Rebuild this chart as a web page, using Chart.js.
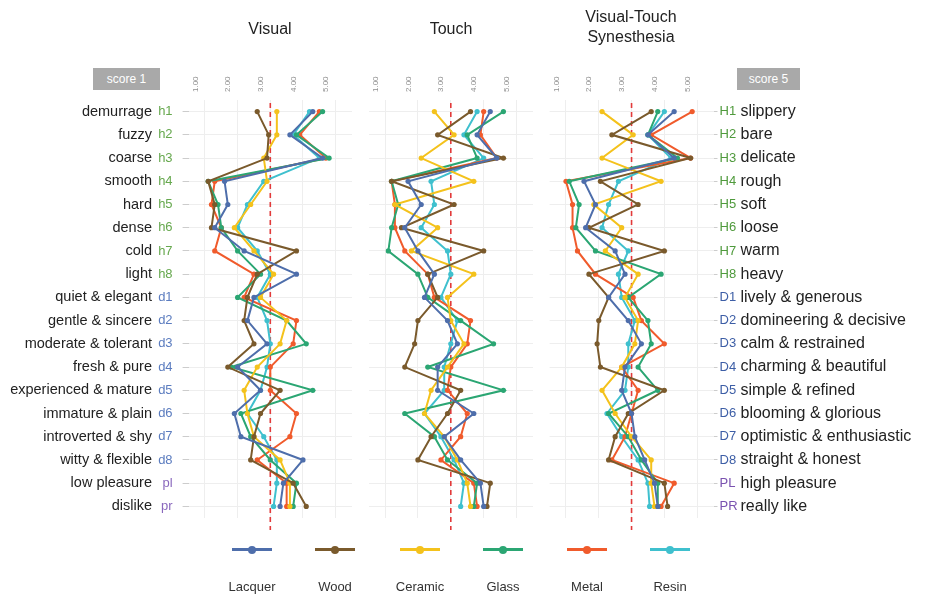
<!DOCTYPE html>
<html>
<head>
<meta charset="utf-8">
<script src="https://cdn.jsdelivr.net/npm/chart.js@4.4.1/dist/chart.umd.min.js"></script>
<style>
  html, body { margin: 0; padding: 0; background: #fff; width: 925px; height: 597px; overflow: hidden;
    font-family: "Liberation Sans", Arial, sans-serif; }
  canvas { position: absolute; top: 0; }
  .title { position: absolute; width: 180px; text-align: center; font-size: 16px; line-height: 20px; color: #222; }
  .score { position: absolute; top: 68px; height: 22px; line-height: 22px; background: #a9a9a9; color: #fff;
    font-size: 12px; text-align: center; }
  .lg { position: absolute; width: 80px; height: 50px; }
  .lg .bar { position: absolute; left: 20px; top: 0; width: 40px; height: 3px; }
  .lg .dot { position: absolute; left: 36px; top: -2.5px; width: 8px; height: 8px; border-radius: 50%; }
  .lg .txt { position: absolute; left: 0; width: 80px; top: 31px; text-align: center; font-size: 13px; color: #333; }
</style>
</head>
<body>
<canvas id="visual" width="360" height="597" style="left:0px"></canvas>
<canvas id="touch" width="180" height="597" style="left:360px"></canvas>
<canvas id="syn" width="385" height="597" style="left:540px"></canvas>

<div class="title" style="left:180px; top:19px;">Visual</div>
<div class="title" style="left:361px; top:19px;">Touch</div>
<div class="title" style="left:541px; top:7px;">Visual-Touch<br>Synesthesia</div>
<div class="score" style="left:93px; width:67px;">score 1</div>
<div class="score" style="left:737px; width:63px;">score 5</div>
<div id="legend"></div>

<script>
// Row codes and the adjective pairs they stand for
const leftCodes = ['h1','h2','h3','h4','h5','h6','h7','h8','d1','d2','d3','d4','d5','d6','d7','d8','pl','pr'];
const leftTerms = ['demurrage','fuzzy','coarse','smooth','hard','dense','cold','light',
  'quiet & elegant','gentle & sincere','moderate & tolerant','fresh & pure','experienced & mature',
  'immature & plain','introverted & shy','witty & flexible','low pleasure','dislike'];
const rightCodes = ['H1','H2','H3','H4','H5','H6','H7','H8','D1','D2','D3','D4','D5','D6','D7','D8','PL','PR'];
const rightTerms = ['slippery','bare','delicate','rough','soft','loose','warm','heavy',
  'lively & generous','domineering & decisive','calm & restrained','charming & beautiful','simple & refined',
  'blooming & glorious','optimistic & enthusiastic','straight & honest','high pleasure','really like'];

// Score axis
const tickValues = [1, 2, 3, 4, 5];
const tickLabels = ['1.00', '2.00', '3.00', '4.00', '5.00'];
const neutralScore = 3;

// Materials
const materials = ['Lacquer', 'Wood', 'Ceramic', 'Glass', 'Metal', 'Resin'];
const materialColors = ['#4e6eab', '#7a5a2c', '#f4c21c', '#2ba673', '#f05b2c', '#3fc0ce'];

// Visual ratings
const visualLacquer = [4.3, 3.6, 4.6, 1.6, 1.7, 1.3, 2.2, 3.8, 2.5, 2.3, 2.9, 2.0, 2.7, 1.9, 2.1, 4.0, 3.4, 3.3];
const visualWood    = [2.6, 2.95, 2.9, 1.1, 1.3, 1.2, 3.8, 2.6, 2.3, 2.2, 2.5, 1.7, 3.3, 2.7, 2.5, 2.4, 3.7, 4.1];
const visualCeramic = [3.2, 3.2, 2.8, 2.9, 2.4, 1.9, 2.5, 3.1, 2.7, 3.5, 3.3, 2.6, 2.2, 2.3, 2.5, 3.3, 3.6, 3.6];
const visualGlass   = [4.6, 3.8, 4.8, 1.1, 1.4, 1.5, 2.0, 2.7, 2.0, 3.5, 4.1, 1.8, 4.3, 2.1, 2.4, 3.0, 3.8, 3.7];
const visualMetal   = [4.5, 3.9, 4.7, 1.3, 1.2, 1.5, 1.3, 2.5, 2.2, 3.8, 3.7, 3.0, 3.0, 3.8, 3.6, 2.6, 3.5, 3.5];
const visualResin   = [4.2, 3.7, 4.5, 2.8, 2.3, 2.0, 2.6, 3.0, 2.6, 2.9, 3.0, 2.9, 2.7, 2.3, 2.8, 3.2, 3.2, 3.1];

// Touch ratings
const touchLacquer = [4.2, 3.8, 4.4, 1.7, 2.1, 1.6, 2.0, 2.5, 2.2, 2.9, 3.2, 2.6, 2.6, 3.7, 2.8, 3.3, 3.9, 4.0];
const touchWood    = [3.6, 2.6, 4.6, 1.2, 3.1, 1.5, 4.0, 2.3, 2.6, 2.0, 1.9, 1.6, 3.3, 2.9, 2.4, 2.0, 4.2, 4.1];
const touchCeramic = [2.5, 3.1, 2.1, 3.7, 1.3, 2.6, 1.8, 3.7, 2.9, 3.0, 3.4, 2.9, 2.4, 2.2, 2.8, 3.2, 3.5, 3.6];
const touchGlass   = [4.6, 3.5, 3.8, 1.2, 1.4, 1.2, 1.1, 2.0, 2.3, 3.3, 4.3, 2.3, 4.6, 1.6, 2.5, 2.9, 3.8, 3.7];
const touchMetal   = [4.0, 3.9, 4.4, 1.2, 1.3, 1.3, 1.6, 2.3, 2.5, 3.6, 3.5, 3.0, 2.9, 3.5, 3.3, 2.7, 3.7, 3.8];
const touchResin   = [3.8, 3.4, 4.0, 2.4, 2.5, 2.1, 2.9, 3.0, 2.7, 3.2, 3.0, 2.8, 2.8, 2.2, 2.7, 3.1, 3.4, 3.3];

// Visual-touch synesthesia ratings
const synLacquer = [4.3, 3.5, 4.3, 1.55, 1.9, 1.6, 2.5, 2.8, 2.3, 2.9, 3.3, 2.8, 2.7, 3.0, 3.1, 3.4, 3.7, 3.8];
const synWood    = [3.6, 2.4, 4.8, 2.05, 3.2, 1.7, 4.0, 1.7, 2.3, 2.0, 1.95, 2.05, 4.0, 2.9, 2.5, 2.3, 4.0, 4.1];
const synCeramic = [2.1, 3.05, 2.1, 3.9, 1.85, 2.7, 2.2, 3.2, 2.8, 3.2, 3.1, 2.7, 2.1, 2.5, 3.0, 3.6, 3.6, 3.7];
const synGlass   = [3.8, 3.5, 4.4, 1.1, 1.4, 1.3, 1.9, 3.9, 2.9, 3.5, 3.6, 3.2, 3.8, 2.3, 2.9, 3.3, 3.8, 3.8];
const synMetal   = [4.85, 3.6, 4.8, 1.0, 1.2, 1.2, 1.35, 1.9, 3.05, 3.3, 4.0, 2.7, 3.2, 3.0, 2.8, 2.4, 4.3, 3.9];
const synResin   = [4.0, 3.5, 4.2, 2.6, 2.3, 2.1, 2.9, 2.6, 2.7, 3.1, 2.9, 2.9, 2.8, 2.25, 2.7, 3.2, 3.5, 3.55];

function codeColor(code, upper) {
  const c = code.toLowerCase();
  if (c[0] === 'h') return upper ? '#4f9a3c' : '#66a84e';
  if (c[0] === 'd') return upper ? '#3d5ea6' : '#5b7cbf';
  return upper ? '#7a52b0' : '#8a68bd';
}

// Red dashed reference line at the neutral score
const neutralLine = {
  id: 'neutralLine',
  beforeDatasetsDraw(chart) {
    const { ctx, chartArea, scales } = chart;
    const x = scales.x.getPixelForValue(neutralScore);
    ctx.save();
    ctx.strokeStyle = '#e23a3a';
    ctx.lineWidth = 1.6;
    ctx.setLineDash([5, 4]);
    ctx.beginPath();
    ctx.moveTo(x, chartArea.top + 3);
    ctx.lineTo(x, chartArea.bottom + 12);
    ctx.stroke();
    ctx.restore();
  }
};

function buildDatasets(seriesList) {
  return seriesList.map((vals, i) => ({
    label: materials[i],
    data: vals,
    borderColor: materialColors[i],
    backgroundColor: materialColors[i],
    pointBackgroundColor: materialColors[i],
    pointBorderWidth: 0,
    pointRadius: 2.6,
    borderWidth: 2,
    tension: 0
  }));
}

function xScale() {
  return {
    type: 'linear', position: 'top', min: 0.5, max: 5.5,
    afterBuildTicks: s => { s.ticks = tickValues.map(v => ({ value: v })); },
    afterFit: s => { s.height = 40; },
    ticks: {
      autoSkip: false, minRotation: 90, maxRotation: 90, padding: 8,
      color: '#8f8f8f', font: { size: 8, family: 'Liberation Sans' },
      callback: v => tickLabels[tickValues.indexOf(v)]
    },
    grid: { color: '#eeeeee', drawTicks: false },
    border: { display: false }
  };
}

function makeChart(id, seriesList, yScales, padding) {
  new Chart(document.getElementById(id), {
    type: 'line',
    data: { labels: leftCodes, datasets: buildDatasets(seriesList) },
    options: {
      indexAxis: 'y',
      responsive: false,
      animation: false,
      devicePixelRatio: 1,
      layout: { padding },
      plugins: { legend: { display: false }, tooltip: { enabled: false } },
      scales: Object.assign({ x: xScale() }, yScales)
    },
    plugins: [neutralLine]
  });
}

const leftTermFont = { size: 14.5, family: 'Liberation Sans' };
const rightTermFont = { size: 16, family: 'Liberation Sans' };
const codeFont = { size: 13, family: 'Liberation Sans' };

// Visual panel with left-hand labels
makeChart('visual',
  [visualLacquer, visualWood, visualCeramic, visualGlass, visualMetal, visualResin],
  {
    y: {
      type: 'category', position: 'left', weight: 0, offset: true,
      afterFit: s => { s.width = 35.6; },
      ticks: { padding: 10, font: codeFont, color: c => codeColor(leftCodes[c.index], false) },
      grid: { color: '#eeeeee', tickLength: 6, tickColor: '#cccccc' },
      border: { display: false }
    },
    yTerms: {
      type: 'category', axis: 'y', labels: leftTerms, position: 'left', weight: 1, offset: true,
      afterFit: s => { s.width = 153; },
      ticks: { padding: 1, font: leftTermFont, color: '#222' },
      grid: { display: false, drawTicks: false },
      border: { display: false }
    }
  },
  { left: 0, right: 8, top: 60, bottom: 79 });

// Touch panel, no row labels
makeChart('touch',
  [touchLacquer, touchWood, touchCeramic, touchGlass, touchMetal, touchResin],
  {
    y: {
      type: 'category', position: 'left', offset: true,
      afterFit: s => { s.width = 0; },
      ticks: { display: false },
      grid: { color: '#eeeeee', drawTicks: false },
      border: { display: false }
    }
  },
  { left: 8.6, right: 7, top: 60, bottom: 79 });

// Synesthesia panel with right-hand labels
makeChart('syn',
  [synLacquer, synWood, synCeramic, synGlass, synMetal, synResin],
  {
    y: {
      type: 'category', position: 'right', weight: 0, offset: true,
      afterFit: s => { s.width = 24; },
      ticks: { padding: 2, font: codeFont, color: c => codeColor(rightCodes[c.index], true),
        callback: (v, i) => rightCodes[i] },
      grid: { color: '#eeeeee', tickLength: 4, tickColor: '#cccccc' },
      border: { display: false }
    },
    yTerms: {
      type: 'category', axis: 'y', labels: rightTerms, position: 'right', weight: 1, offset: true,
      afterFit: s => { s.width = 187.5; },
      ticks: { padding: 3, font: rightTermFont, color: '#222' },
      grid: { display: false, drawTicks: false },
      border: { display: false }
    }
  },
  { left: 9.6, right: 0, top: 60, bottom: 79 });

// Legend: line-and-marker swatch with the name underneath
const legendCenters = [252, 335, 420, 503, 587, 670];
const legend = document.getElementById('legend');
materials.forEach((name, i) => {
  const item = document.createElement('div');
  item.className = 'lg';
  item.style.left = (legendCenters[i] - 40) + 'px';
  item.style.top = '548px';
  item.innerHTML = '<div class="bar" style="background:' + materialColors[i] + '"></div>' +
    '<div class="dot" style="background:' + materialColors[i] + '"></div>' +
    '<div class="txt">' + name + '</div>';
  legend.appendChild(item);
});
</script>
</body>
</html>
